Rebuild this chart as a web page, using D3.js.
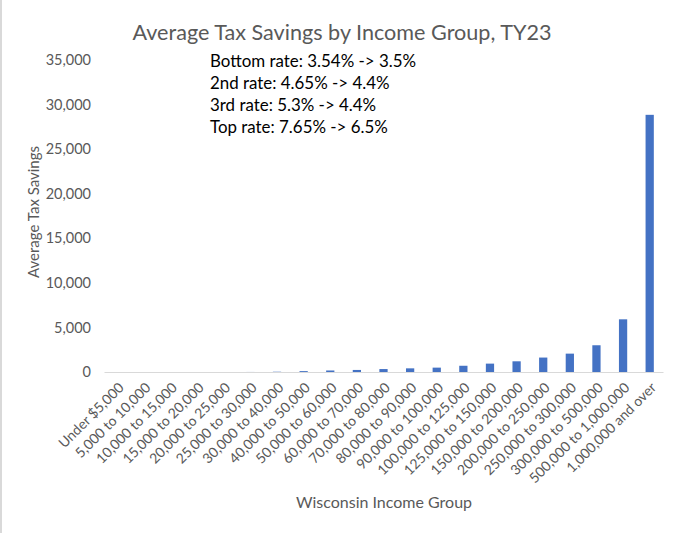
<!DOCTYPE html>
<html>
<head>
<meta charset="utf-8">
<script src="https://cdn.jsdelivr.net/npm/d3@7"></script>
<style>
  html, body { margin: 0; padding: 0; background: #fff; }
  svg { display: block; }
  text { font-family: Lato, "Open Sans", sans-serif; }
</style>
</head>
<body>
<svg id="chart" width="680" height="533"></svg>
<script>
const categories = [
  "Under $5,000", "5,000 to 10,000", "10,000 to 15,000", "15,000 to 20,000",
  "20,000 to 25,000", "25,000 to 30,000", "30,000 to 40,000", "40,000 to 50,000",
  "50,000 to 60,000", "60,000 to 70,000", "70,000 to 80,000", "80,000 to 90,000",
  "90,000 to 100,000", "100,000 to 125,000", "125,000 to 150,000", "150,000 to 200,000",
  "200,000 to 250,000", "250,000 to 300,000", "300,000 to 500,000", "500,000 to 1,000,000",
  "1,000,000 and over"
];
const savings = [0, 0, 0, 0, 0, 5, 30, 100, 170, 230, 330, 410, 490, 700, 940, 1200, 1620, 2060, 3000, 5910, 28850];
const yTicks = [0, 5000, 10000, 15000, 20000, 25000, 30000, 35000];
const title = "Average Tax Savings by Income Group, TY23";
const notes = [
  "Bottom rate: 3.54% -> 3.5%",
  "2nd rate: 4.65% -> 4.4%",
  "3rd rate: 5.3% -> 4.4%",
  "Top rate: 7.65% -> 6.5%"
];
const yTitle = "Average Tax Savings";
const xTitle = "Wisconsin Income Group";

const svg = d3.select("#chart");
const mLeft = 104, mRight = 663, mTop = 60, mBottom = 372;

// light left border
svg.append("line").attr("x1", 1).attr("x2", 1).attr("y1", 0).attr("y2", 533)
  .attr("stroke", "#d9d9d9").attr("stroke-width", 2);

const x = d3.scaleBand().domain(categories).range([mLeft, mRight])
  .paddingInner(0.69).paddingOuter(0.345);
const y = d3.scaleLinear().domain([0, 35000]).range([mBottom, mTop]);

// title
svg.append("text").attr("x", 342).attr("y", 40).attr("text-anchor", "middle")
  .attr("font-size", 21.6).attr("fill", "#595959").text(title);

// y axis labels
const yAxis = d3.axisLeft(y).tickValues(yTicks).tickSize(0).tickPadding(0)
  .tickFormat(d3.format(","));
const gy = svg.append("g").attr("transform", `translate(91,0)`).call(yAxis);
gy.select(".domain").remove();
gy.selectAll("text").attr("font-size", 14.5).attr("fill", "#595959")
  .attr("font-family", "Lato, 'Open Sans', sans-serif");

// bars
svg.append("g").selectAll("rect").data(categories).join("rect")
  .attr("x", d => x(d))
  .attr("width", x.bandwidth())
  .attr("y", (d, i) => y(savings[i]))
  .attr("height", (d, i) => y(0) - y(savings[i]))
  .attr("fill", "#4472C4");

// x axis
const xAxis = d3.axisBottom(x).tickSize(0).tickPadding(0);
const gx = svg.append("g").attr("transform", `translate(0,${mBottom})`).call(xAxis);
gx.select(".domain").attr("stroke", "#d9d9d9").attr("stroke-width", 1.2);
gx.selectAll("text")
  .attr("font-size", 14).attr("fill", "#595959")
  .attr("font-family", "Lato, 'Open Sans', sans-serif")
  .attr("text-anchor", "end")
  .attr("dy", "0.35em")
  .attr("transform", "translate(4,13) rotate(-45)");

// notes
svg.append("g").selectAll("text").data(notes).join("text")
  .attr("x", 210).attr("y", (d, i) => 66.5 + i * 22.1)
  .attr("font-size", 16.9).attr("fill", "#000").text(d => d);

// axis titles
svg.append("text").attr("transform", "translate(39,212) rotate(-90)")
  .attr("text-anchor", "middle").attr("font-size", 15).attr("fill", "#595959").text(yTitle);
svg.append("text").attr("x", 384).attr("y", 508).attr("text-anchor", "middle")
  .attr("font-size", 16).attr("fill", "#595959").text(xTitle);
</script>
</body>
</html>
